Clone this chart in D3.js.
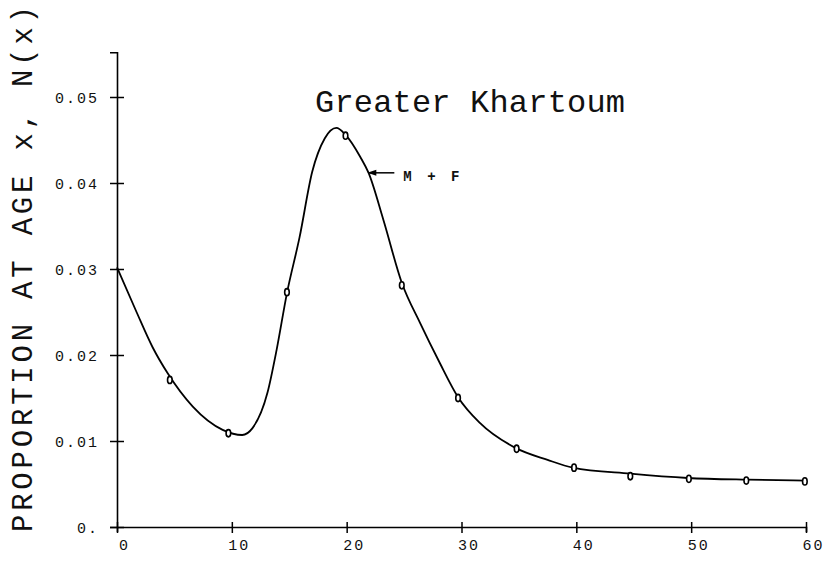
<!DOCTYPE html>
<html>
<head>
<meta charset="utf-8">
<script src="https://cdn.jsdelivr.net/npm/d3@7"></script>
<style>
  html, body { margin: 0; padding: 0; background: #fff; }
  svg { display: block; }
</style>
</head>
<body>
<svg id="chart" width="829" height="562"></svg>
<script>
// ---- data ----
const title = "Greater Khartoum";
const yLabel = "PROPORTION AT AGE x, N(x)";
const seriesLabel = "M + F";

// observed points (age, proportion)
const pointAges   = [4.6, 9.7, 14.8, 19.9, 24.8, 29.7, 34.8, 39.8, 44.7, 49.8, 54.8, 59.9];
const pointValues = [0.0171, 0.0109, 0.0273, 0.0455, 0.0281, 0.0150, 0.0091, 0.0069, 0.0059, 0.0056, 0.0054, 0.0053];

// fitted curve (age, proportion)
const curveAges   = [0, 1.7, 3.1, 4.4, 6.6, 9.2, 10.9, 11.8, 13.1, 13.9, 14.8, 15.9, 17.0, 18.1, 19.1, 19.9, 21.2, 21.9, 23.2, 24.8, 26.4, 28.1, 29.7, 31.6, 34.7, 37.5, 39.7, 44.7, 49.7, 54.9, 60];
const curveValues = [0.0302, 0.0250, 0.0209, 0.0179, 0.0140, 0.0113, 0.0107, 0.0115, 0.0156, 0.0206, 0.0272, 0.0337, 0.0413, 0.0452, 0.0464, 0.0456, 0.0430, 0.0412, 0.0357, 0.0284, 0.0237, 0.0191, 0.0151, 0.0121, 0.0092, 0.0078, 0.0069, 0.0062, 0.0057, 0.0055, 0.0054];

const xTicks = [0, 10, 20, 30, 40, 50, 60];
const xTickLabels = ["0", "10", "20", "30", "40", "50", "60"];
const yTicks = [0, 0.01, 0.02, 0.03, 0.04, 0.05];
const yTickLabels = ["0.", "0.01", "0.02", "0.03", "0.04", "0.05"];

const annotAge = 21.8, annotValue = 0.0413; // where the M + F arrow points

// ---- drawing ----
const svg = d3.select("#chart");
const font = "'Courier New', 'Liberation Mono', monospace";

const x = d3.scaleLinear().domain([0, 60]).range([117, 806]);
const y = d3.scaleLinear().domain([0, 0.0552]).range([527, 527 - 0.0552 * 8600]);

// y axis
const yAxis = d3.axisLeft(y).tickValues(yTicks).tickSizeOuter(0).tickSize(7)
  .tickFormat((d, i) => yTickLabels[i]);
const gy = svg.append("g").attr("transform", `translate(${x(0)},0)`).call(yAxis);
gy.select(".domain").attr("stroke", "#000").attr("stroke-width", 1.6);
gy.selectAll(".tick line").attr("x1", -7).attr("x2", 7).attr("stroke", "#000").attr("stroke-width", 1.5);
gy.selectAll(".tick text")
  .attr("x", -18).attr("dy", "0.35em")
  .attr("font-family", font).attr("font-size", 15)
  .attr("letter-spacing", 2).attr("fill", "#111")
  .attr("text-anchor", "end");

// x axis
const xAxis = d3.axisBottom(x).tickValues(xTicks).tickSizeOuter(0).tickSize(5)
  .tickFormat((d, i) => xTickLabels[i]);
const gx = svg.append("g").attr("transform", `translate(0,${y(0)})`).call(xAxis);
gx.select(".domain").attr("stroke", "#000").attr("stroke-width", 1.6);
gx.selectAll(".tick line").attr("y1", -5).attr("y2", 6).attr("stroke", "#000").attr("stroke-width", 1.5);
gx.selectAll(".tick text")
  .attr("y", 12).attr("dx", 7).attr("dy", "0.71em")
  .attr("font-family", font).attr("font-size", 15)
  .attr("letter-spacing", 2).attr("fill", "#111");

// fitted curve
const curveData = curveAges.map((a, i) => [a, curveValues[i]]);
svg.append("path")
  .datum(curveData)
  .attr("fill", "none")
  .attr("stroke", "#000")
  .attr("stroke-width", 1.8)
  .attr("stroke-linejoin", "round")
  .attr("d", d3.line().x(d => x(d[0])).y(d => y(d[1])).curve(d3.curveMonotoneX));

// observed points ("0"-shaped markers)
const pts = pointAges.map((a, i) => [a, pointValues[i]]);
svg.append("g").selectAll("ellipse").data(pts).join("ellipse")
  .attr("cx", d => x(d[0]))
  .attr("cy", d => y(d[1]))
  .attr("rx", 2.3).attr("ry", 3.6)
  .attr("fill", "#fff")
  .attr("stroke", "#000")
  .attr("stroke-width", 1.6);

// title
svg.append("text")
  .attr("x", 315).attr("y", 112)
  .attr("font-family", font).attr("font-size", 32)
  .attr("textLength", 310).attr("lengthAdjust", "spacing")
  .attr("fill", "#111")
  .text(title);

// y axis label
svg.append("text")
  .attr("transform", "translate(32,532) rotate(-90)")
  .attr("x", 0).attr("y", 0)
  .attr("font-family", font).attr("font-size", 29)
  .attr("textLength", 526).attr("lengthAdjust", "spacing")
  .attr("fill", "#111")
  .text(yLabel);

// M + F annotation with arrow
const ax = x(annotAge), ay = y(annotValue) + 1;
svg.append("line")
  .attr("x1", ax + 2).attr("y1", ay).attr("x2", ax + 27).attr("y2", ay)
  .attr("stroke", "#000").attr("stroke-width", 1.5);
svg.append("path")
  .attr("d", `M${ax},${ay} L${ax + 9},${ay - 3} L${ax + 9},${ay + 3} Z`)
  .attr("fill", "#000");
svg.append("text")
  .attr("x", ax + 36).attr("y", ay + 8)
  .attr("font-family", font).attr("font-size", 14).attr("font-weight", "bold")
  .attr("letter-spacing", 3.5)
  .attr("fill", "#111")
  .text(seriesLabel);
</script>
</body>
</html>
